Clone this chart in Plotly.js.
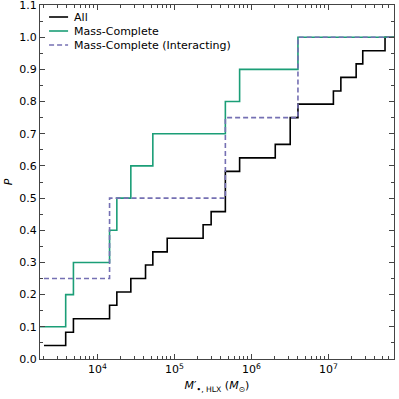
<!DOCTYPE html>
<html>
<head>
<meta charset="utf-8">
<script src="https://cdn.plot.ly/plotly-3.0.1.min.js"></script>
<style>
  html, body { margin: 0; padding: 0; background: #fff; }
  #cdf-plot { width: 399px; height: 399px; }
</style>
</head>
<body>
<div id="cdf-plot"></div>
<script>
  // step positions (M_sun) and cumulative fractions
  var allMass = [2030, 3880, 4890, 14400, 17900, 27200, 42200, 52500, 80700, 236000,
                 300000, 459000, 703000, 2040000, 3190000, 4020000, 11600000,
                 14500000, 22900000, 27900000, 54300000];
  var allP = [0.042, 0.083, 0.125, 0.167, 0.208, 0.25, 0.292, 0.333, 0.375, 0.417,
              0.458, 0.583, 0.625, 0.667, 0.75, 0.792, 0.833, 0.875, 0.917, 0.958, 1.0];

  var completeMass = [1800, 3880, 4890, 14400, 17900, 27200, 52500, 459000, 703000, 4020000];
  var completeP = [0.1, 0.2, 0.3, 0.4, 0.5, 0.6, 0.7, 0.8, 0.9, 1.0];

  var interactMass = [2030, 14400, 459000, 4020000];
  var interactP = [0.25, 0.5, 0.75, 1.0];

  var massMin = 1800;
  var massMax = 71000000;

  var tickVals = [1e4, 1e5, 1e6, 1e7];
  var tickText = ['10<sup>4</sup>', '10<sup>5</sup>', '10<sup>6</sup>', '10<sup>7</sup>'];

  // minor ticks 2..9 in every decade
  var minorVals = [];
  for (var d = 1e3; d <= 1e7; d *= 10) {
    for (var m = 2; m <= 9; m++) minorVals.push(m * d);
  }

  // extend every curve to the right edge, as the step lines run off the axes
  function toEdge(arr, last) { return arr.concat([last]); }

  var axisColor = '#444';

  var cdfData = [
    {
      name: 'All',
      x: toEdge(allMass, massMax),
      y: toEdge(allP, allP[allP.length - 1]),
      mode: 'lines',
      line: { shape: 'hv', color: '#000000', width: 1.6 }
    },
    {
      name: 'Mass-Complete',
      x: toEdge(completeMass, massMax),
      y: toEdge(completeP, completeP[completeP.length - 1]),
      mode: 'lines',
      line: { shape: 'hv', color: '#1b9e77', width: 1.6 }
    },
    {
      name: 'Mass-Complete (Interacting)',
      x: toEdge(interactMass, massMax),
      y: toEdge(interactP, interactP[interactP.length - 1]),
      mode: 'lines',
      line: { shape: 'hv', color: '#7570b3', width: 1.6, dash: '5px,3px' }
    }
  ];

  var cdfLayout = {
    width: 399,
    height: 399,
    margin: { t: 5, b: 40, l: 40, r: 5 },
    paper_bgcolor: '#fff',
    plot_bgcolor: '#fff',
    font: { family: 'DejaVu Sans', size: 11, color: '#000' },
    showlegend: true,
    legend: {
      x: 0.02, y: 1.0, xanchor: 'left', yanchor: 'top',
      bgcolor: 'rgba(0,0,0,0)',
      font: { family: 'DejaVu Sans', size: 11 },
      tracegroupgap: 0
    },
    xaxis: {
      type: 'log',
      range: [Math.log10(massMin), Math.log10(massMax)],
      tickvals: tickVals,
      ticktext: tickText,
      ticks: 'inside',
      ticklen: 5,
      tickwidth: 1,
      tickcolor: axisColor,
      minor: { tickvals: minorVals, ticks: 'inside', ticklen: 3, tickcolor: axisColor, showgrid: false },
      showline: true,
      linecolor: axisColor,
      linewidth: 1,
      mirror: 'allticks',
      showgrid: false,
      zeroline: false,
      title: {
        text: '<i>M</i>′<sub>•, HLX</sub> (<i>M</i><sub>⊙</sub>)',
        font: { size: 11 },
        standoff: 6
      }
    },
    yaxis: {
      range: [0, 1.1000001],
      dtick: 0.1,
      tickformat: '.1f',
      ticklabeloverflow: 'allow',
      ticks: 'inside',
      ticklen: 5,
      tickwidth: 1,
      tickcolor: axisColor,
      minor: { dtick: 0.05, ticks: 'inside', ticklen: 3, tickcolor: axisColor, showgrid: false },
      showline: true,
      linecolor: axisColor,
      linewidth: 1,
      mirror: 'allticks',
      showgrid: false,
      zeroline: false,
      title: { text: '<i>P</i>', font: { size: 11 }, standoff: 4 }
    }
  };

  Plotly.newPlot('cdf-plot', cdfData, cdfLayout, { displayModeBar: false, staticPlot: true })
    .then(function (gd) {
      // tighten legend: shorter line samples, 14px rows like matplotlib
      var rows = gd.querySelectorAll('.legend .traces');
      rows.forEach(function (row, i) {
        row.setAttribute('transform', 'translate(0,' + (12 + i * 14) + ')');
        var ln = row.querySelector('.js-line');
        if (ln) ln.setAttribute('d', 'M2,0h19');
        var txt = row.querySelector('text.legendtext');
        if (txt) txt.setAttribute('x', 27);
      });
    });
</script>
</body>
</html>
